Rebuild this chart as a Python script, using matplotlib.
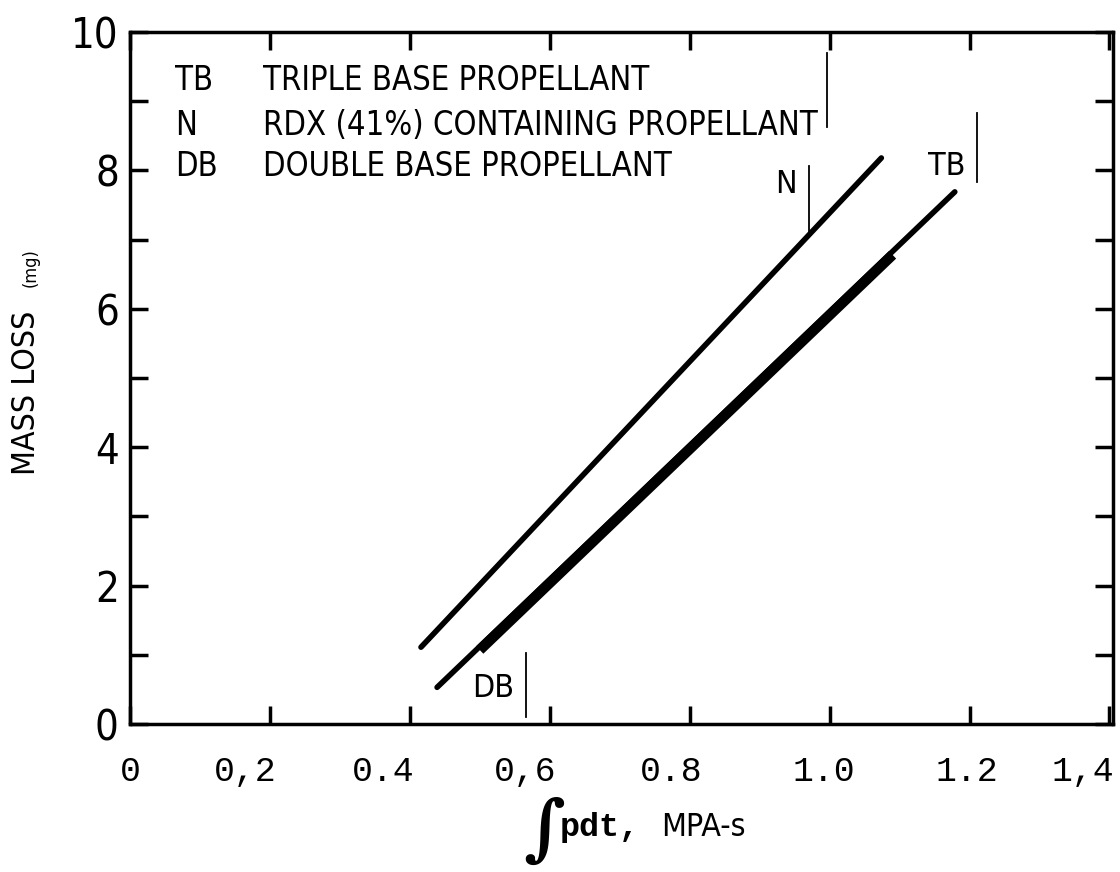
import matplotlib.pyplot as plt
from matplotlib.ticker import MultipleLocator
from matplotlib.transforms import ScaledTranslation

# fonts: condensed sans for most text, typewriter for x tick labels
narrow = ['DejaVu Sans']
mono = ['Liberation Mono', 'DejaVu Sans Mono']

# lines
n_x = [0.416, 1.074]
n_y = [1.11, 8.18]
tb_x = [0.439, 1.179]
tb_y = [0.53, 7.69]
db_x = [0.50, 1.09]      # thick part over the TB line
db_y = [1.07, 6.78]

# curve labels and the short vertical strokes next to them
curve_labels = ['N', 'TB', 'DB']
label_x = [0.937, 1.167, 0.519]
label_y = [7.80, 8.06, 0.51]
stroke_x = [0.971, 1.21, 0.566, 0.996]
stroke_y0 = [7.13, 7.83, 0.10, 8.63]
stroke_y1 = [8.07, 8.83, 1.03, 9.70]

legend_keys = ['TB', 'N', 'DB']
legend_names = ['TRIPLE BASE PROPELLANT',
                'RDX (41%) CONTAINING PROPELLANT',
                'DOUBLE BASE PROPELLANT']
legend_y = [9.3, 8.65, 8.05]

x_ticks = [0, 0.2, 0.4, 0.6, 0.8, 1.0, 1.2, 1.4]
x_tick_labels = ['0', '0,2', '0.4', '0,6', '0.8', '1.0', '1.2', '1,4']
y_ticks = [0, 2, 4, 6, 8, 10]

fig = plt.figure(figsize=(11.2, 8.72), dpi=100)
ax = fig.add_axes([0.116, 0.1697, 0.8777, 0.7936])

ax.plot(n_x, n_y, color='black', lw=4, solid_capstyle='round')
ax.plot(tb_x, tb_y, color='black', lw=4, solid_capstyle='round')
ax.plot(db_x, db_y, color='black', lw=7.5, solid_capstyle='butt')

for i in range(len(curve_labels)):
    ax.text(label_x[i], label_y[i], curve_labels[i], family=narrow,
            stretch='condensed', fontsize=23, ha='center', va='center')
for i in range(len(stroke_x)):
    ax.plot([stroke_x[i], stroke_x[i]], [stroke_y0[i], stroke_y1[i]],
            color='black', lw=1.3)

for i in range(len(legend_keys)):
    ax.text(0.065, legend_y[i], legend_keys[i], family=narrow,
            stretch='condensed', fontsize=23.5, va='center')
    ax.text(0.19, legend_y[i], legend_names[i], family=narrow,
            stretch='condensed', fontsize=23.5, va='center')

ax.set_xlim(0, 1.405)
ax.set_ylim(0, 10)
ax.set_xticks(x_ticks)
ax.set_xticklabels(x_tick_labels, family=mono, fontsize=25)
ax.set_yticks(y_ticks)
ax.set_yticklabels([str(v) for v in y_ticks], family=narrow,
                   stretch='condensed', fontsize=30)
ax.yaxis.set_minor_locator(MultipleLocator(1))
ax.tick_params(which='both', direction='in', top=True, right=True,
               length=13, width=2.5)
ax.tick_params(axis='x', pad=22)
ax.tick_params(axis='y', pad=8)
for s in ax.spines.values():
    s.set_linewidth(2.5)

# the typed labels sit a little left of their ticks in the scan
shifts = [0, -18, -19, -18, -13, -4, -2, -19]
for lab, dx in zip(ax.get_xticklabels(), shifts):
    lab.set_transform(lab.get_transform() +
                      ScaledTranslation(dx / 72, 0, fig.dpi_scale_trans))

# axis titles
fig.text(0.024, 0.55, 'MASS LOSS', family=narrow, stretch='condensed',
         fontsize=23, rotation=90, ha='center', va='center')
fig.text(0.027, 0.693, '(mg)', family=narrow, stretch='condensed',
         fontsize=13, rotation=90, ha='center', va='center')
fig.text(0.486, 0.046, '\u222b', family=['DejaVu Serif'], fontsize=52,
         ha='center', va='center', fontweight='bold')
fig.text(0.500, 0.051, 'pdt,', family=mono, fontsize=24,
         ha='left', va='center', fontweight='bold')
fig.text(0.590, 0.051, 'MPA-s', family=narrow, stretch='condensed',
         fontsize=23, ha='left', va='center')

fig.savefig('out.png', dpi=100)
